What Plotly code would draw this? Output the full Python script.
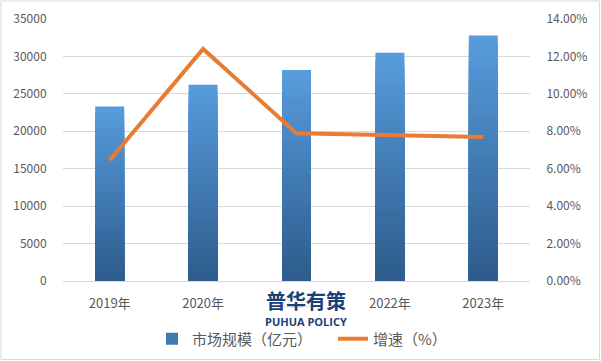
import plotly.graph_objects as go

years = ["2019年", "2020年", "2021年", "2022年", "2023年"]
market_size = [23300, 26200, 28200, 30500, 32800]
growth = [0.0645, 0.124, 0.079, 0.078, 0.077]
left_ticks = [0, 5000, 10000, 15000, 20000, 25000, 30000, 35000]
right_ticks = [0, 0.02, 0.04, 0.06, 0.08, 0.10, 0.12, 0.14]

FONT = "Noto Sans CJK SC"
TOP = (86, 155, 220)
BOT = (46, 92, 140)
N = 30

W, H = 601, 361
ML, MR, MT, MB = 63, 71, 19, 80
pw, ph = W - ML - MR, H - MT - MB

def px2x(p):
    return (p - ML) / pw

def py2y(p):
    return (H - MB - p) / ph

fig = go.Figure()
for k in range(N):
    t = k / (N - 1)
    c = tuple(round(TOP[i] + (BOT[i] - TOP[i]) * t) for i in range(3))
    fig.add_trace(go.Bar(
        x=years, y=[v * (N - k) / N for v in market_size],
        marker=dict(color="rgb(%d,%d,%d)" % c, line=dict(width=0)),
        opacity=1, width=0.31, hoverinfo="skip",
        name="市场规模（亿元）", showlegend=(k == N // 2), legendrank=1,
    ))

fig.add_trace(go.Scatter(
    x=years, y=growth, yaxis="y2", mode="lines",
    line=dict(color="#E97C35", width=4), name="增速（%）", legendrank=2,
))

fig.update_layout(
    width=W, height=H, margin=dict(l=ML, r=MR, t=MT, b=MB, autoexpand=False),
    paper_bgcolor="white", plot_bgcolor="white",
    barmode="overlay", bargap=0.69,
    font=dict(family=FONT, size=12, color="#595959"),
    xaxis=dict(showgrid=False, showline=True, linecolor="#D9D9D9", linewidth=1,
               ticks="outside", ticklen=10, tickcolor="rgba(0,0,0,0)", automargin=False,
               tickfont=dict(size=13, color="#595959")),
    yaxis=dict(range=[0, 35000], tickvals=left_ticks, tickformat="d", showgrid=True,
               gridcolor="#D9D9D9", gridwidth=1, zeroline=False, showline=False,
               ticks="outside", ticklen=13, tickcolor="rgba(0,0,0,0)", automargin=False,
               tickfont=dict(size=12, color="#595959")),
    yaxis2=dict(range=[0, 0.14], tickvals=right_ticks, tickformat=".2%",
                overlaying="y", side="right", showgrid=False, zeroline=False,
                ticks="outside", ticklen=13, tickcolor="rgba(0,0,0,0)", automargin=False,
                tickfont=dict(size=12, color="#595959")),
    legend=dict(orientation="h", x=px2x(152), xanchor="left", y=py2y(339), yanchor="middle",
                font=dict(size=15, color="#595959"), itemwidth=30, entrywidth=136,
                traceorder="normal"),
    showlegend=True,
)

fig.add_annotation(text="<b>普华有策</b>", x=px2x(306), y=py2y(300), xref="paper", yref="paper",
                   xanchor="center", yanchor="middle", showarrow=False,
                   font=dict(family=FONT, size=20, color="#1B3F78"),
                   bgcolor="rgba(255,255,255,0.85)")
fig.add_annotation(text="<b>PUHUA POLICY</b>", x=px2x(306), y=py2y(321), xref="paper", yref="paper",
                   xanchor="center", yanchor="middle", showarrow=False,
                   font=dict(family="Open Sans", size=11, color="#1B3F78"))

fig.add_shape(type="rect", xref="paper", yref="paper",
              x0=px2x(1), x1=px2x(599.5), y0=py2y(359.5), y1=py2y(1),
              line=dict(color="#D9D9D9", width=1), fillcolor="rgba(0,0,0,0)", layer="below")

fig.write_html("out.html", config={"displayModeBar": False},
               post_script="document.body.style.margin='0';document.body.style.overflow='hidden';")
